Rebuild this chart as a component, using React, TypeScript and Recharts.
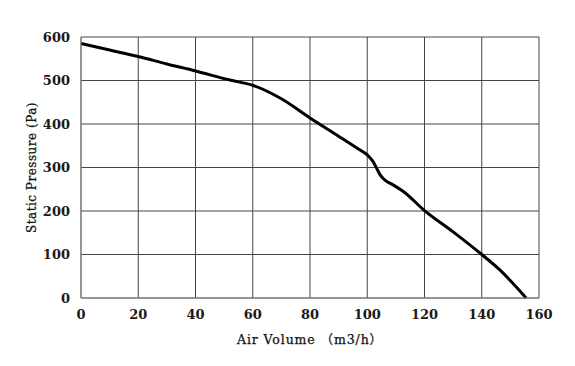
import { CartesianGrid, Label, Line, LineChart, XAxis, YAxis } from 'recharts';

// fan curve
const airVolume = [0, 10, 20, 30, 40, 52, 60, 70, 80, 90, 97.5, 100, 102, 103.3, 104.5, 106.2, 109, 112.6, 120, 130, 140, 146.4, 155.5];
const staticPressure = [585, 570, 555, 538, 522, 501, 489, 458, 414, 372, 340, 329, 314, 298, 283, 271, 260, 245, 201, 152, 100, 64, 0];

const xTicks = [0, 20, 40, 60, 80, 100, 120, 140, 160];
const yTicks = [0, 100, 200, 300, 400, 500, 600];

const xTitle = 'Air Volume （m3/h）';
const yTitle = 'Static Pressure (Pa)';

const data = airVolume.map((q, i) => ({ q, p: staticPressure[i] }));

const tickStyle = {
  fontFamily: '"DejaVu Serif", serif',
  fontSize: 13,
  fontWeight: 700,
  fill: '#1a1a1a',
};
const titleFont = '"DejaVu Serif", "Noto Sans CJK SC", serif';

function YTitle(props: any) {
  const vb = props.viewBox;
  const cx = vb.x + 32;
  const cy = vb.y + vb.height / 2;
  return (
    <text
      x={cx}
      y={cy}
      transform={`rotate(-90 ${cx} ${cy})`}
      textAnchor="middle"
      dominantBaseline="central"
      style={{ fontFamily: titleFont, fontSize: 12, letterSpacing: 0.5 }}
      fill="#111"
      stroke="#111"
      strokeWidth={0.25}
    >
      {yTitle}
    </text>
  );
}

function XTitle(props: any) {
  const vb = props.viewBox;
  const cx = vb.x + vb.width / 2;
  const cy = vb.y + 41;
  return (
    <text
      x={cx}
      y={cy}
      textAnchor="middle"
      dominantBaseline="central"
      style={{ fontFamily: titleFont, fontSize: 12.5, letterSpacing: 0.9 }}
      fill="#111"
      stroke="#111"
      strokeWidth={0.25}
    >
      {xTitle}
    </text>
  );
}

export default function App() {
  return (
    <div style={{ position: 'absolute', left: 0, top: 0, width: 575, height: 366, background: '#fff' }}>
      <LineChart
        width={575}
        height={366}
        data={data}
        margin={{ top: 37, right: 36, left: 0, bottom: 18 }}
      >
        <CartesianGrid stroke="#444" strokeWidth={1} />
        <XAxis
          dataKey="q"
          type="number"
          domain={[0, 160]}
          ticks={xTicks}
          interval={0}
          height={50}
          tickLine={false}
          tickSize={6}
          tickMargin={6}
          axisLine={{ stroke: '#888' }}
          tick={tickStyle}
        >
          <Label content={<XTitle />} />
        </XAxis>
        <YAxis
          type="number"
          domain={[0, 600]}
          ticks={yTicks}
          interval={0}
          width={81}
          tickLine={false}
          tickSize={6}
          tickMargin={5}
          axisLine={{ stroke: '#888' }}
          tick={tickStyle}
        >
          <Label content={<YTitle />} />
        </YAxis>
        <Line
          dataKey="p"
          type="monotone"
          stroke="#000"
          strokeWidth={3}
          dot={false}
          isAnimationActive={false}
        />
      </LineChart>
    </div>
  );
}
